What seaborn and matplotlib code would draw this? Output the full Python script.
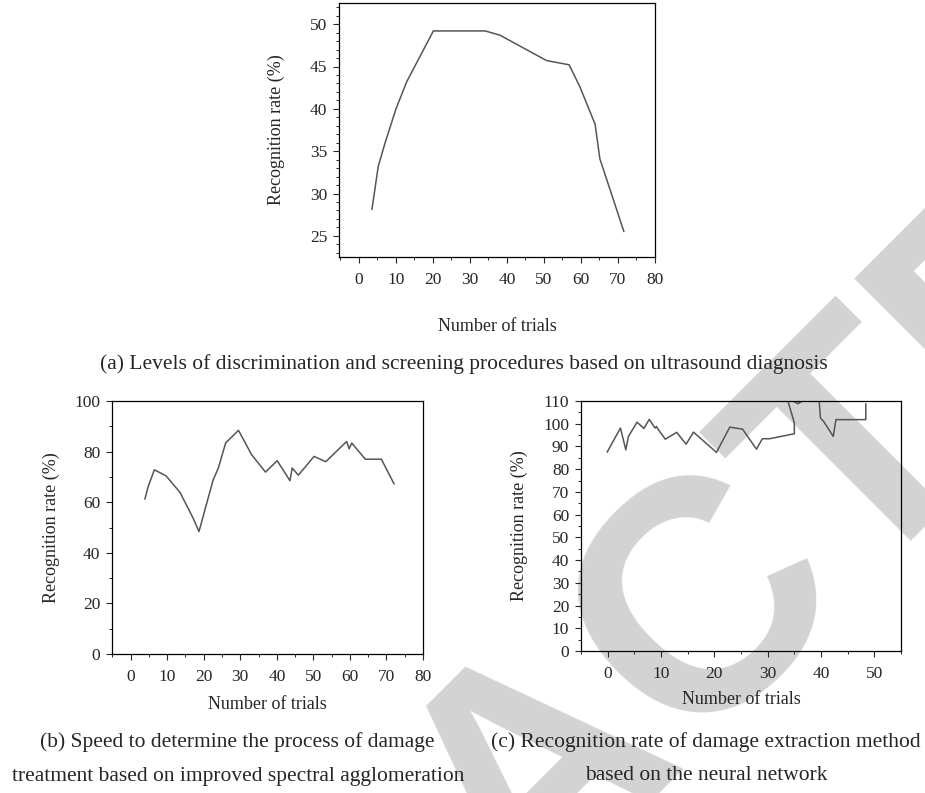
import matplotlib
matplotlib.use("Agg")
import matplotlib.pyplot as plt
import seaborn as sns
import pandas as pd

# panel (a): levels of discrimination
a_trials = [3.5, 5.2, 7.0, 10.0, 12.9, 20.1, 34.1, 38.1, 50.7, 56.8, 59.7, 63.8, 65.1, 71.6]
a_rate = [28.1, 33.2, 35.9, 40.0, 43.2, 49.2, 49.2, 48.7, 45.7, 45.2, 42.6, 38.2, 34.1, 25.5]

# panel (b): improved spectral agglomeration
b_trials = [3.9, 4.8, 6.5, 9.7, 13.5, 17.1, 18.7, 21.2, 22.6, 24.0, 26.0, 29.5, 33.1,
            36.9, 40.1, 43.6, 44.2, 45.9, 50.2, 53.4, 59.1, 59.8, 60.5, 64.2, 68.6, 72.1]
b_rate = [61.2, 66.2, 72.8, 70.4, 63.9, 53.7, 48.4, 61.6, 68.9, 73.5, 83.4, 88.4, 78.8,
          71.9, 76.4, 68.5, 73.5, 70.7, 78.1, 76.0, 84.0, 81.1, 83.4, 77.0, 77.0, 67.2]

# panel (c): neural network extraction (goes past the top of the axis)
c_trials = [-0.1, 2.4, 3.4, 3.9, 5.5, 6.8, 7.8, 8.9, 9.15, 9.5, 10.8, 12.95, 14.7, 16.1,
            20.4, 22.9, 25.3, 27.9, 29.0, 30.4, 35.0, 35.0, 34.3, 33.6, 35.7, 37.5,
            39.6, 39.9, 40.5, 42.3, 42.8, 48.4, 48.4]
c_rate = [87.5, 98.1, 88.5, 94.4, 100.7, 97.9, 101.9, 98.1, 98.8, 97.4, 93.2, 96.2, 91.0, 96.3,
          87.4, 98.5, 97.6, 88.8, 93.4, 93.4, 95.6, 100.3, 106.0, 111.5, 108.8, 111.5,
          111.5, 102.5, 101.0, 94.4, 101.8, 101.8, 108.8]

a_ticks = list(range(0, 81, 10))
b_ticks = list(range(0, 81, 10))
c_ticks = list(range(0, 51, 10))

ylabel = "Recognition rate (%)"
xlabel = "Number of trials"
cap_a = "(a) Levels of discrimination and screening procedures based on ultrasound diagnosis"
cap_b = ["(b) Speed to determine the process of damage",
         "treatment based on improved spectral agglomeration"]
cap_c = ["(c) Recognition rate of damage extraction method",
         "based on the neural network"]

sns.set_style("ticks")
plt.rcParams["font.family"] = ["Liberation Serif", "DejaVu Serif"]

W, H = 925, 793
fig = plt.figure(figsize=(W / 100, H / 100), dpi=100)

line_col = "#555555"


def px_axes(left, top, right, bottom):
    return fig.add_axes([left / W, 1 - bottom / H, (right - left) / W, (bottom - top) / H])


def draw(ax, xs, ys):
    # keep the points as read, no aggregation on repeated x
    df = pd.DataFrame({"t": xs, "r": ys})
    sns.lineplot(data=df, x="t", y="r", sort=False, estimator=None, errorbar=None,
                 color=line_col, lw=1.1, ax=ax)


def style(ax, xlim, ylim, xticks, yticks, xminor, yminor, xl_pos, yl_pos):
    ax.set_xlim(*xlim)
    ax.set_ylim(*ylim)
    ax.set_xticks(xticks)
    ax.set_yticks(yticks)
    ax.set_xticks(xminor, minor=True)
    ax.set_yticks(yminor, minor=True)
    ax.patch.set_alpha(0)
    for s in ax.spines.values():
        s.set_visible(True)
        s.set_linewidth(0.9)
        s.set_color("black")
    ax.tick_params(which="major", direction="out", length=4, width=0.8, labelsize=12.5)
    ax.tick_params(which="minor", direction="out", length=2.4, width=0.7)
    ax.tick_params(axis="x", which="major", pad=7)
    ax.tick_params(axis="y", which="major", pad=4.5)
    ax.set_xlabel(xlabel, fontsize=13, va="center")
    ax.set_ylabel(ylabel, fontsize=13, va="center")
    ax.xaxis.set_label_coords(*xl_pos)
    ax.yaxis.set_label_coords(*yl_pos)


ax_a = px_axes(339, 3, 655, 257)
draw(ax_a, a_trials, a_rate)
style(ax_a, (-5.4, 80), (22.5, 52.5), a_ticks, range(25, 51, 5),
      range(-5, 81, 5), range(23, 53), (0.5, -0.272), (-0.199, 0.5))

ax_b = px_axes(112, 401, 423, 654)
draw(ax_b, b_trials, b_rate)
style(ax_b, (-5.1, 80), (0, 100), b_ticks, range(0, 101, 20),
      range(-5, 81, 5), range(0, 101, 10), (0.5, -0.198), (-0.196, 0.5))

ax_c = px_axes(581, 401, 901, 651)
draw(ax_c, c_trials, c_rate)
style(ax_c, (-5, 55), (0, 110), c_ticks, range(0, 111, 10),
      range(-5, 56, 5), range(0, 111, 5), (0.5, -0.196), (-0.194, 0.5))

# captions
fig.text(464 / W, 1 - 364 / H, cap_a, ha="center", va="center", fontsize=15.5)
fig.text(237 / W, 1 - 742 / H, cap_b[0], ha="center", va="center", fontsize=15.5)
fig.text(238 / W, 1 - 776 / H, cap_b[1], ha="center", va="center", fontsize=15.5)
fig.text(706 / W, 1 - 742 / H, cap_c[0], ha="center", va="center", fontsize=15.5)
fig.text(706 / W, 1 - 776 / H, cap_c[1], ha="center", va="center", fontsize=15.5)

# watermark
fig.text(600 / W, 1 - 830 / H, "RETRACTED", ha="center", va="baseline", rotation=45,
         rotation_mode="anchor", fontsize=236, color="#d3d3d3", zorder=-5,
         family="Liberation Sans", weight="bold")

fig.savefig("out.png", dpi=100)
